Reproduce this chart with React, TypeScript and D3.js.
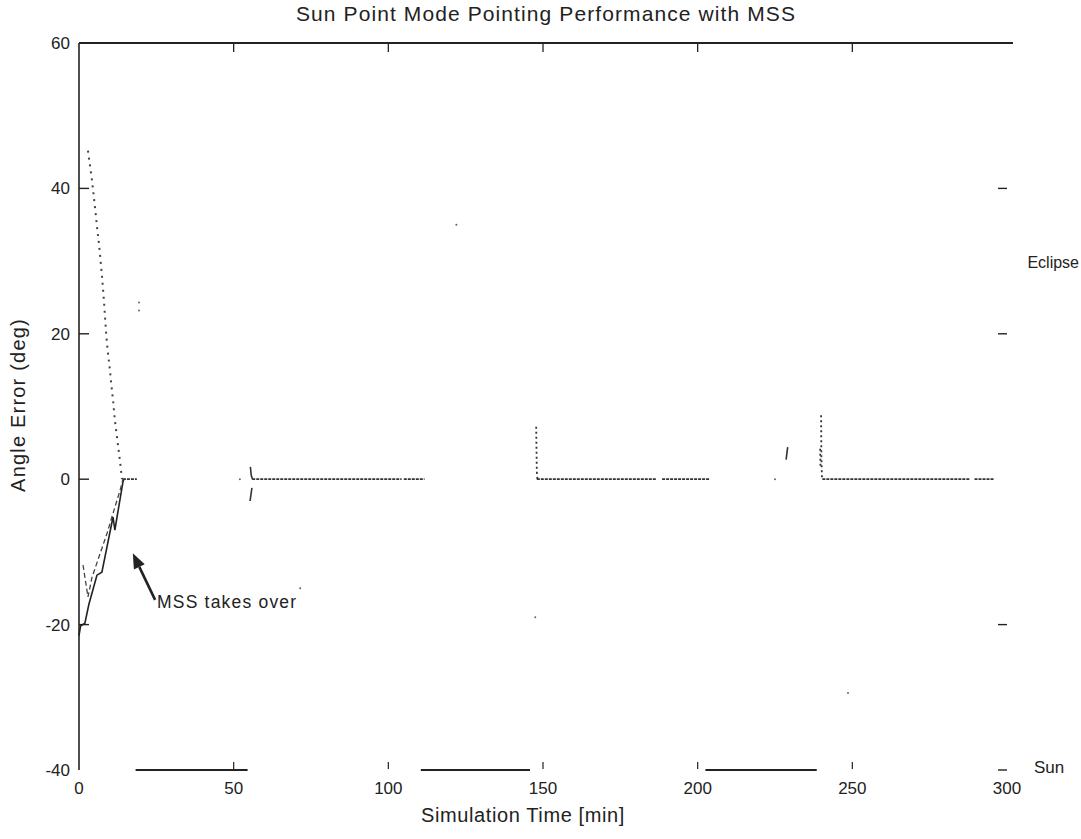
import React from 'react';
import * as d3 from 'd3';

// sim time [min] and angle error [deg]
const timeTicks = [0, 50, 100, 150, 200, 250, 300];
const angleTicks = [60, 40, 20, 0, -20, -40];
const rightTicks = [40, 20, -20, -40];

// acquisition phase before the MSS takes over
const acqSolid: [number, number][] = [
  [0, -21.5], [0.5, -20.2], [1.9, -19.8], [3.2, -17.2], [5.8, -13.2], [7.4, -12.8],
  [11.0, -5.2], [11.6, -7.0], [12.3, -5.2], [14.2, -0.4], [14.5, 0]
];
const acqDashed: [number, number][] = [
  [1.3, -11.8], [2.9, -16.2], [4.2, -13.5], [9.1, -7.4], [11.0, -4.7], [13.3, -1.5], [14.2, 0]
];
const acqDotted: [number, number][] = [
  [2.9, 45.2], [4.2, 41.1], [5.2, 37.3], [6.0, 34.0], [6.5, 32.2], [7.4, 28.1], [8.1, 24.3],
  [8.7, 20.5], [9.1, 18.4], [10.0, 15.0], [10.7, 12.0], [11.0, 10.9], [11.6, 8.1],
  [12.6, 4.7], [13.3, 2.3], [13.9, 0]
];

// time spans where the error sits on zero
const settledSpans: [number, number][] = [
  [14.2, 18.7], [56.0, 104.3], [105.0, 111.7], [148.0, 186.5], [188.5, 203.7],
  [240.3, 288.0], [289.5, 295.8]
];

// transients when the sun comes back
const spikeSolid: [number, number][][] = [
  [[55.4, 1.7], [55.7, 0.5], [56.1, 0]],
  [[55.9, -1.2], [55.3, -3.0]],
  [[228.6, 2.7], [229.1, 4.4]]
];
const spikeDotted: [number, number][][] = [
  [[147.8, 7.2], [147.9, 4.0], [148.0, 1.0], [148.2, 0]],
  [[239.9, 8.8], [240.0, 3.0], [240.2, 0]],
  [[239.6, 4.2], [239.7, 1.8]]
];

// stray samples
const specks: [number, number][] = [
  [19.4, 24.3], [19.4, 23.2], [52.0, 0], [71.5, -15.0], [122.0, 35.0],
  [147.5, -19.0], [225.0, 0], [248.6, -29.4]
];

// sun / eclipse indicator spans drawn at the bottom
const sunSpans: [number, number][] = [[18.3, 54.5], [110.5, 145.8], [202.5, 238.5]];

const arrowTail: [number, number] = [24.6, -16.6];
const arrowHead: [number, number] = [17.4, -10.2];

const W = 1081;
const H = 839;
const font = '"Liberation Sans", Arial, Helvetica, sans-serif';
const ink = '#222';

export default function App() {
  const x = d3.scaleLinear().domain([0, 300]).range([79, 1007]);
  const y = d3.scaleLinear().domain([-40, 60]).range([770, 43]);

  const line = d3.line<[number, number]>().x(d => x(d[0])).y(d => y(d[1]));

  // arrow head triangle
  const hx = x(arrowHead[0]), hy = y(arrowHead[1]);
  const tx = x(arrowTail[0]), ty = y(arrowTail[1]);
  const ang = Math.atan2(hy - ty, hx - tx);
  const hl = 15, hw = 6;
  const bx = hx - hl * Math.cos(ang), by = hy - hl * Math.sin(ang);
  const tri = [
    [hx, hy],
    [bx + hw * Math.sin(ang), by - hw * Math.cos(ang)],
    [bx - hw * Math.sin(ang), by + hw * Math.cos(ang)]
  ].map(p => p.join(',')).join(' ');

  return (
    <svg width={W} height={H} style={{position: 'absolute', left: 0, top: 0, background: '#fff'}}
         fontFamily={font}>
      <text x={546} y={21} textAnchor="middle" fontSize={21} letterSpacing={1.1} fill={ink}>
        Sun Point Mode Pointing Performance with MSS
      </text>

      {/* left axis + top border */}
      <line x1={x(0)} x2={x(0)} y1={y(60)} y2={y(-40)} stroke={ink} strokeWidth={1.6}/>
      <line x1={x(0)} x2={x(300) + 6} y1={y(60)} y2={y(60)} stroke={ink} strokeWidth={1.8}/>

      {angleTicks.map(t => (
        <g key={'ya' + t}>
          {t !== 60 && t !== -40 &&
            <line x1={x(0)} x2={x(0) + 10} y1={y(t)} y2={y(t)} stroke={ink} strokeWidth={1.4}/>}
          <text x={70} y={y(t)} dy="0.35em" textAnchor="end" fontSize={17} fill={ink}>{t}</text>
        </g>
      ))}
      {rightTicks.map(t => (
        <line key={'yr' + t} x1={x(300) - 9} x2={x(300)} y1={y(t)} y2={y(t)} stroke={ink} strokeWidth={1.4}/>
      ))}

      {timeTicks.map(t => (
        <g key={'xa' + t}>
          {t > 0 && t < 300 && <>
            <line x1={x(t)} x2={x(t)} y1={y(60)} y2={y(60) + 9} stroke={ink} strokeWidth={1.3}/>
            <line x1={x(t)} x2={x(t)} y1={y(-40) - 8} y2={y(-40) - 1} stroke={ink} strokeWidth={1.2}/>
          </>}
          <text x={x(t)} y={y(-40) + 24} textAnchor="middle" fontSize={17} fill={ink}>{t}</text>
        </g>
      ))}

      {sunSpans.map((s, i) => (
        <line key={'sun' + i} x1={x(s[0])} x2={x(s[1])} y1={y(-40)} y2={y(-40)} stroke={ink} strokeWidth={1.8}/>
      ))}

      <text x={523} y={822} textAnchor="middle" fontSize={20} letterSpacing={0.6} fill={ink}>
        Simulation Time [min]
      </text>
      <text transform={`translate(25,${405}) rotate(-90)`} textAnchor="middle" fontSize={20}
            letterSpacing={1.2} fill={ink}>
        Angle Error (deg)
      </text>

      <text x={1079} y={262} dy="0.35em" textAnchor="end" fontSize={16} fill={ink}>Eclipse</text>
      <text x={1034} y={767} dy="0.35em" fontSize={17} fill={ink}>Sun</text>

      {/* acquisition */}
      <path d={line(acqSolid) ?? ''} fill="none" stroke={ink} strokeWidth={1.6}/>
      <path d={line(acqDashed) ?? ''} fill="none" stroke="#444" strokeWidth={1.3} strokeDasharray="5 3"/>
      <path d={line(acqDotted) ?? ''} fill="none" stroke="#444" strokeWidth={2} strokeDasharray="2 5"/>

      {settledSpans.map((s, i) => (
        <line key={'z' + i} x1={x(s[0])} x2={x(s[1])} y1={y(0)} y2={y(0)}
              stroke="#333" strokeWidth={1.8} strokeDasharray="3 1"/>
      ))}
      {spikeSolid.map((s, i) => (
        <path key={'ss' + i} d={line(s) ?? ''} fill="none" stroke="#333" strokeWidth={1.6}/>
      ))}
      {spikeDotted.map((s, i) => (
        <path key={'sd' + i} d={line(s) ?? ''} fill="none" stroke="#333" strokeWidth={1.8} strokeDasharray="2 3"/>
      ))}
      {specks.map((p, i) => (
        <circle key={'p' + i} cx={x(p[0])} cy={y(p[1])} r={1} fill="#666"/>
      ))}

      {/* annotation */}
      <line x1={tx} y1={ty} x2={bx} y2={by} stroke={ink} strokeWidth={2.6}/>
      <polygon points={tri} fill={ink}/>
      <text x={157} y={602} dy="0.35em" fontSize={17.5} letterSpacing={1.2} fill={ink}>MSS takes over</text>
    </svg>
  );
}
